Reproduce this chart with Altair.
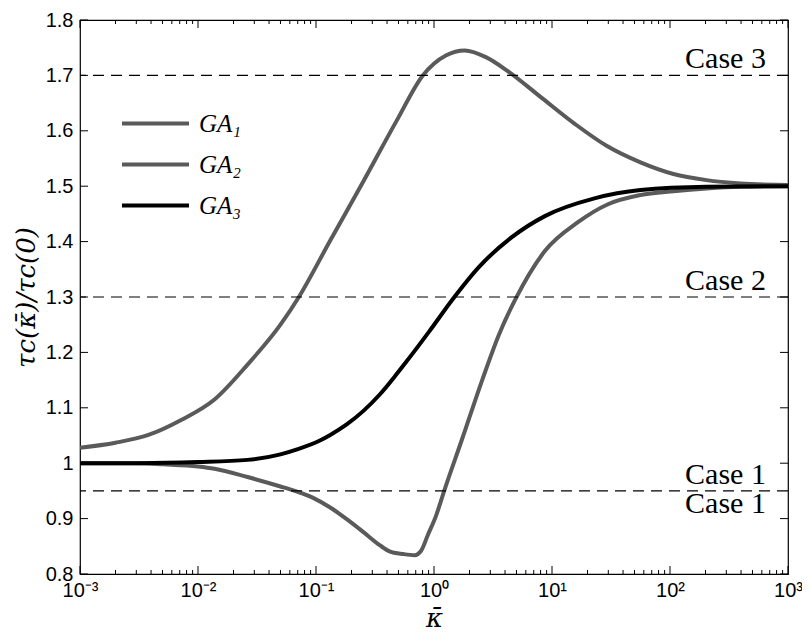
import altair as alt
import pandas as pd

# ---------------- data ----------------
series_names = ["GA₁", "GA₂", "GA₃"]
series_colors = ["#5a5a5a", "#5a5a5a", "#000000"]

k_a1 = [0.001, 0.002, 0.0038, 0.0072, 0.0138, 0.0263, 0.05, 0.0716, 0.132, 0.251,
        0.479, 0.804, 1.26, 1.82, 2.75, 4.27, 8.13, 15.5, 29.5, 56.2, 107, 204, 398, 1000]
v_a1 = [1.028, 1.037, 1.051, 1.078, 1.115, 1.178, 1.250, 1.300, 1.402, 1.508,
        1.617, 1.700, 1.736, 1.745, 1.733, 1.707, 1.660, 1.613, 1.572, 1.543, 1.522, 1.511, 1.505, 1.502]

k_a2 = [0.001, 0.00316, 0.0051, 0.01, 0.0138, 0.0263, 0.05, 0.066, 0.0955, 0.132,
        0.182, 0.251, 0.347, 0.42, 0.55, 0.684, 0.778, 0.885, 1.04, 1.22,
        1.74, 2.57, 3.55, 4.9, 8.7, 16.6, 29.5, 56.2, 107, 204, 398, 1000]
v_a2 = [1.000, 1.000, 0.998, 0.994, 0.990, 0.975, 0.958, 0.950, 0.937, 0.920,
        0.899, 0.876, 0.852, 0.841, 0.836, 0.834, 0.842, 0.870, 0.905, 0.950,
        1.045, 1.151, 1.232, 1.296, 1.383, 1.435, 1.467, 1.484, 1.491, 1.496, 1.499, 1.500]

k_a3 = [0.001, 0.00316, 0.01, 0.0263, 0.05, 0.0692, 0.108, 0.132, 0.182, 0.251,
        0.347, 0.479, 0.582, 0.912, 1.44, 2.4, 4.57, 8.7, 22.9, 56.2, 204, 1000]
v_a3 = [1.000, 1.000, 1.002, 1.006, 1.016, 1.025, 1.041, 1.051, 1.070, 1.094,
        1.124, 1.160, 1.183, 1.238, 1.296, 1.354, 1.408, 1.446, 1.478, 1.493, 1.499, 1.500]

case_levels = [1.7, 1.3, 0.95]
case_labels_above = ["Case 3", "Case 2", "Case 1"]
case_label_below = ["Case 1"]
case_label_x = 650

x_ticks = [0.001, 0.01, 0.1, 1, 10, 100, 1000]
x_tick_labels = ["10⁻³", "10⁻²", "10⁻¹", "10⁰", "10¹", "10²", "10³"]
x_minor_ticks = [m * d for d in [0.001, 0.01, 0.1, 1, 10, 100] for m in range(2, 10)]
y_ticks = [0.8, 0.9, 1.0, 1.1, 1.2, 1.3, 1.4, 1.5, 1.6, 1.7, 1.8]

# ---------------- tables ----------------
df = pd.concat([
    pd.DataFrame({"k": k_a1, "v": v_a1, "series": series_names[0]}),
    pd.DataFrame({"k": k_a2, "v": v_a2, "series": series_names[1]}),
    pd.DataFrame({"k": k_a3, "v": v_a3, "series": series_names[2]}),
], ignore_index=True)
df["o"] = range(len(df))

cases_above = pd.DataFrame({"k": case_label_x, "v": case_levels, "label": case_labels_above})
cases_below = pd.DataFrame({"k": case_label_x, "v": [case_levels[2]], "label": case_label_below})
levels = pd.DataFrame({"v": case_levels})
xt = pd.DataFrame({"k": x_ticks})
xmt = pd.DataFrame({"k": x_minor_ticks})
yt = pd.DataFrame({"v": y_ticks})

W, H = 708, 554
xscale = alt.Scale(type="log", domain=[0.001, 1000], nice=False)
yscale = alt.Scale(domain=[0.8, 1.8], nice=False, zero=False)

label_expr = "[" + ",".join("'" + s + "'" for s in x_tick_labels) + "][round(log(datum.value)/LN10)+3]"

x_axis = alt.Axis(values=x_ticks, labelExpr=label_expr, ticks=False, domain=False, grid=False,
                  labelFont="Liberation Sans", labelFontSize=20, labelColor="black",
                  labelPadding=6, labelFlush=False, labelOverlap=False,
                  title="κ̄", titleFont="DejaVu Serif", titleFontStyle="italic",
                  titleFontSize=26, titleFontWeight="normal", titleColor="black",
                  titleY=52, titleBaseline="alphabetic")
y_axis = alt.Axis(values=y_ticks,
                  labelExpr="abs(datum.value - 1) < 1e-9 ? '1' : format(datum.value, '.1f')",
                  ticks=False, domain=False, grid=False,
                  labelFont="Liberation Sans", labelFontSize=20, labelColor="black", labelPadding=7,
                  title="τc(κ̄)/τc(0)", titleFont="DejaVu Serif", titleFontStyle="italic",
                  titleFontSize=26, titleFontWeight="normal", titleColor="black",
                  titleX=-46, titleBaseline="alphabetic")

X = alt.X("k:Q", scale=xscale, axis=x_axis)
Y = alt.Y("v:Q", scale=yscale, axis=y_axis)

lines = alt.Chart(df).mark_line(strokeWidth=4, interpolate="monotone", clip=True).encode(
    x=X, y=Y,
    color=alt.Color("series:N", sort=series_names,
                    scale=alt.Scale(domain=series_names, range=series_colors),
                    legend=alt.Legend(title=None, orient="none", legendX=40, legendY=88,
                                      symbolType="stroke", symbolSize=4489, symbolStrokeWidth=4,
                                      labelFont="Liberation Serif", labelFontStyle="italic",
                                      labelFontSize=25, labelColor="black", labelOffset=8,
                                      clipHeight=31, rowPadding=10, padding=0)),
    order="o:Q",
)

dashed = alt.Chart(levels).mark_rule(strokeDash=[11, 7], strokeWidth=1.2, color="black").encode(y=Y)

text_above = alt.Chart(cases_above).mark_text(align="right", baseline="alphabetic", dy=-7,
                                              font="Liberation Serif", fontSize=30, color="black").encode(
    x=X, y=Y, text="label:N")
text_below = alt.Chart(cases_below).mark_text(align="right", baseline="alphabetic", dy=22,
                                              font="Liberation Serif", fontSize=30, color="black").encode(
    x=X, y=Y, text="label:N")

TK, TKm = 8, 4
tick_style = dict(color="black", strokeWidth=1)
xb = alt.Chart(xt).mark_rule(**tick_style).encode(x=X, y=alt.value(H), y2=alt.value(H - TK))
xtop = alt.Chart(xt).mark_rule(**tick_style).encode(x=X, y=alt.value(0), y2=alt.value(TK))
xbm = alt.Chart(xmt).mark_rule(**tick_style).encode(x=X, y=alt.value(H), y2=alt.value(H - TKm))
xtopm = alt.Chart(xmt).mark_rule(**tick_style).encode(x=X, y=alt.value(0), y2=alt.value(TKm))
yl = alt.Chart(yt).mark_rule(**tick_style).encode(y=Y, x=alt.value(0), x2=alt.value(TK))
yr = alt.Chart(yt).mark_rule(**tick_style).encode(y=Y, x=alt.value(W), x2=alt.value(W - TK))

chart = alt.layer(lines, dashed, text_above, text_below, xb, xtop, xbm, xtopm, yl, yr).properties(
    width=W, height=H,
    autosize=alt.AutoSizeParams(type="none"),
    padding={"left": 72, "top": 12, "right": 14, "bottom": 59},
    background="white",
).configure_view(stroke="black", strokeWidth=1.2)

chart.save("out.html", embed_options={"renderer": "svg", "actions": False})
